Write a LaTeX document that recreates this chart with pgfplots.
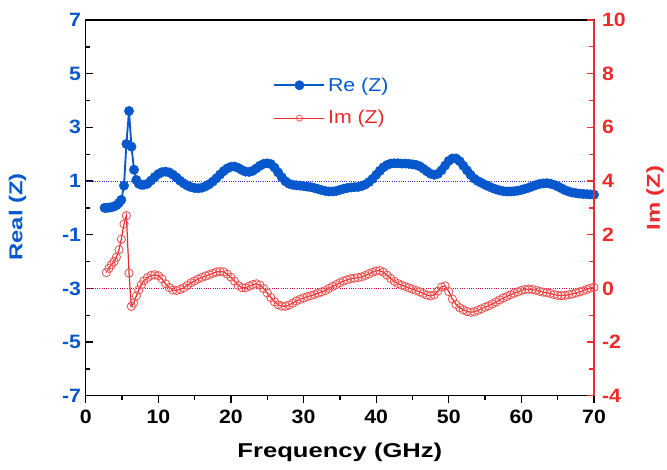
\documentclass[border=0pt]{standalone}
\usepackage{fontspec}
\setmainfont{Liberation Sans}
\newfontfamily\tickfont{Liberation Sans}[FakeStretch=1.1]
\newfontfamily\legfont{Liberation Sans}[FakeStretch=1.14]
\newfontfamily\labfont{Liberation Sans}[FakeStretch=1.28]
\usepackage{pgfplots}
\usepackage{pgfplotstable}
\pgfplotsset{compat=1.18}

\definecolor{reblue}{RGB}{8,88,205}
\definecolor{imred}{RGB}{238,42,42}
\definecolor{imedge}{RGB}{238,85,85}
\definecolor{dotblue}{RGB}{50,50,215}
\definecolor{dotred}{RGB}{205,0,85}

% Re(Z), left axis
\pgfplotstableread{
f re
2.6 0.00
2.9 0.00
3.2 0.01
3.5 0.02
3.9 0.05
4.25 0.10
4.6 0.19
4.9 0.30
5.27 0.83
5.6 2.38
5.96 3.61
6.3 2.28
6.65 1.42
6.97 1.04
7.3 0.90
7.65 0.86
8.0 0.86
8.5 0.90
9.0 1.02
9.5 1.15
10.0 1.26
10.5 1.33
11.0 1.35
11.5 1.32
12.0 1.24
12.5 1.13
13.0 1.01
13.5 0.91
14.0 0.83
14.5 0.77
15.0 0.74
15.5 0.73
16.0 0.75
16.5 0.80
17.0 0.88
17.5 0.98
18.0 1.10
18.5 1.24
19.0 1.37
19.5 1.47
20.0 1.53
20.5 1.54
21.0 1.49
21.5 1.41
22.0 1.35
22.5 1.34
23.0 1.38
23.5 1.47
24.0 1.57
24.5 1.64
25.0 1.66
25.5 1.63
26.0 1.50
26.5 1.32
27.0 1.14
27.5 0.99
28.0 0.90
28.5 0.86
29.0 0.84
29.5 0.83
30.0 0.81
30.5 0.79
31.0 0.77
31.5 0.74
32.0 0.70
32.5 0.66
33.0 0.63
33.5 0.61
34.0 0.61
34.5 0.63
35.0 0.67
35.5 0.71
36.0 0.74
36.5 0.76
37.0 0.77
37.5 0.78
38.0 0.81
38.5 0.87
39.0 0.96
39.5 1.08
40.0 1.23
40.5 1.38
41.0 1.51
41.5 1.60
42.0 1.65
42.5 1.66
43.0 1.66
43.5 1.65
44.0 1.65
44.5 1.64
45.0 1.62
45.5 1.60
46.0 1.55
46.5 1.46
47.0 1.36
47.5 1.27
48.0 1.23
48.5 1.27
49.0 1.40
49.5 1.58
50.0 1.75
50.5 1.84
51.0 1.84
51.5 1.74
52.0 1.57
52.5 1.40
53.0 1.23
53.5 1.09
54.0 1.00
54.5 0.93
55.0 0.86
55.5 0.80
56.0 0.74
56.5 0.69
57.0 0.65
57.5 0.62
58.0 0.61
58.5 0.61
59.0 0.62
59.5 0.64
60.0 0.67
60.5 0.71
61.0 0.75
61.5 0.80
62.0 0.85
62.5 0.89
63.0 0.91
63.5 0.92
64.0 0.90
64.5 0.86
65.0 0.80
65.5 0.73
66.0 0.66
66.5 0.61
67.0 0.57
67.5 0.55
68.0 0.53
68.5 0.52
69.0 0.51
69.5 0.50
70.0 0.49
}\redata

% Im(Z), right axis
\pgfplotstableread{
f im
2.84 0.59
3.2 0.75
3.53 0.88
3.9 1.00
4.22 1.16
4.58 1.44
4.9 1.83
5.27 2.40
5.6 2.71
5.96 0.57
6.28 -0.67
6.6 -0.55
6.97 -0.28
7.3 -0.06
7.65 0.13
8.0 0.28
8.5 0.40
9.0 0.48
9.5 0.51
10.0 0.47
10.5 0.36
11.0 0.17
11.5 0.03
12.0 -0.06
12.5 -0.08
13.0 -0.04
13.5 0.02
14.0 0.11
14.5 0.21
15.0 0.28
15.5 0.35
16.0 0.41
16.5 0.46
17.0 0.51
17.5 0.56
18.0 0.61
18.5 0.63
19.0 0.61
19.5 0.53
20.0 0.42
20.5 0.27
21.0 0.11
21.5 0.03
22.0 0.02
22.5 0.08
23.0 0.14
23.5 0.17
24.0 0.12
24.5 -0.01
25.0 -0.17
25.5 -0.34
26.0 -0.50
26.5 -0.61
27.0 -0.66
27.5 -0.67
28.0 -0.62
28.5 -0.55
29.0 -0.47
29.5 -0.41
30.0 -0.36
30.5 -0.31
31.0 -0.27
31.5 -0.23
32.0 -0.18
32.5 -0.13
33.0 -0.08
33.5 0.00
34.0 0.07
34.5 0.14
35.0 0.21
35.5 0.27
36.0 0.32
36.5 0.36
37.0 0.38
37.5 0.40
38.0 0.43
38.5 0.48
39.0 0.54
39.5 0.60
40.0 0.65
40.5 0.66
41.0 0.60
41.5 0.49
42.0 0.37
42.5 0.26
43.0 0.18
43.5 0.12
44.0 0.07
44.5 0.02
45.0 -0.03
45.5 -0.08
46.0 -0.13
46.5 -0.19
47.0 -0.25
47.5 -0.28
48.0 -0.24
48.5 -0.10
49.0 0.05
49.5 0.09
50.0 -0.12
50.5 -0.40
51.0 -0.60
51.5 -0.72
52.0 -0.80
52.5 -0.86
53.0 -0.89
53.5 -0.87
54.0 -0.82
54.5 -0.76
55.0 -0.70
55.5 -0.65
56.0 -0.58
56.5 -0.51
57.0 -0.43
57.5 -0.36
58.0 -0.30
58.5 -0.24
59.0 -0.18
59.5 -0.13
60.0 -0.08
60.5 -0.04
61.0 -0.03
61.5 -0.04
62.0 -0.07
62.5 -0.11
63.0 -0.14
63.5 -0.16
64.0 -0.19
64.5 -0.23
65.0 -0.26
65.5 -0.27
66.0 -0.26
66.5 -0.24
67.0 -0.21
67.5 -0.17
68.0 -0.13
68.5 -0.09
69.0 -0.04
69.5 0.01
70.0 0.04
}\imdata

\pgfplotsset{
  common/.style={
    scale only axis,
    width=381.2pt, height=281.8pt,
    xmin=0, xmax=70,
    major tick length=5.5pt, minor tick length=3.5pt,
    legend image code/.code={
      \draw[mark repeat=2,mark phase=2]
      plot coordinates {(0pt,0pt) (18.75pt,0pt) (37.5pt,0pt)};
    },
  },
}

\begin{document}
\begin{tikzpicture}
\begin{axis}[
    common,
    name=ax,
    ymin=-7, ymax=7,
    xtick={0,10,20,30,40,50,60,70},
    xticklabels={0,10,20,30,40,50,60,70},
    ytick={-7,-5,-3,-1,1,3,5,7},
    yticklabels={-7,-5,-3,-1,1,3,5,7},
    minor x tick num=1, minor y tick num=1,
    xtick pos=bottom, ytick pos=left,
    xtick align=outside, ytick align=inside,
    every tick/.style={black, line width=1pt},
    axis line style={black, line width=1.1pt},
    xticklabel style={font=\tickfont\fontsize{14.5}{16}\selectfont\bfseries, black, yshift=-2pt},
    yticklabel style={font=\tickfont\fontsize{14.5}{16}\selectfont\bfseries, reblue},
    xlabel={Frequency (GHz)},
    xlabel style={font=\labfont\fontsize{15}{18}\selectfont\bfseries, black,
      at={(axis description cs:0.5,-0.15)}, anchor=center},
    ylabel={Real (Z)},
    ylabel style={font=\labfont\fontsize{14}{16}\selectfont\bfseries, reblue,
      at={(axis description cs:-0.134,0.476)}, anchor=center, rotate=0},
    legend style={at={(axis description cs:0.369,0.7825)}, anchor=west,
      draw=none, fill=none, inner sep=0pt, row sep=9pt,
      font=\legfont\fontsize{14}{16}\selectfont},
    legend cell align=left,
]
\addplot[dotblue, densely dotted, line width=0.7pt, forget plot]
  coordinates {(0,1) (70,1)};
\addplot[reblue, line width=1.4pt, mark=*, mark size=3.5pt,
  mark options={fill=reblue, draw=reblue, line width=0.4pt}]
  table[x=f, y=re] {\redata};
\addlegendentry{\textcolor{reblue}{Re (Z)}}
\addlegendimage{imred, line width=0.9pt, mark=o, mark size=2.3pt,
  mark options={fill=white, draw=imedge, line width=0.6pt}}
\addlegendentry{\textcolor{imred}{Im (Z)}}
\end{axis}

\begin{axis}[
    common,
    ymin=-4, ymax=10,
    axis x line=none,
    axis y line*=right,
    ytick={-4,-2,0,2,4,6,8,10},
    yticklabels={-4,-2,0,2,4,6,8,10},
    minor y tick num=1,
    ytick align=inside,
    every tick/.style={imred, line width=1pt},
    axis line style={imred, line width=1.1pt},
    yticklabel style={font=\tickfont\fontsize{14.5}{16}\selectfont\bfseries, imred, xshift=2.5pt},
    ylabel={Im (Z)},
    ylabel style={font=\labfont\fontsize{14}{16}\selectfont\bfseries, imred,
      at={(axis description cs:1.12,0.526)}, anchor=center, rotate=0},
]
\addplot[dotred, densely dotted, line width=0.7pt, forget plot]
  coordinates {(0,0) (70,0)};
\addplot[imred, line width=0.9pt, mark=o, mark size=3.1pt,
  mark options={fill=white, draw=imedge, line width=0.65pt}]
  table[x=f, y=im] {\imdata};
\end{axis}

\pgfresetboundingbox
\path[use as bounding box] ([xshift=-64.3pt,yshift=-55pt]ax.south west)
  rectangle ([xshift=54.75pt,yshift=15pt]ax.north east);
\end{tikzpicture}
\end{document}
